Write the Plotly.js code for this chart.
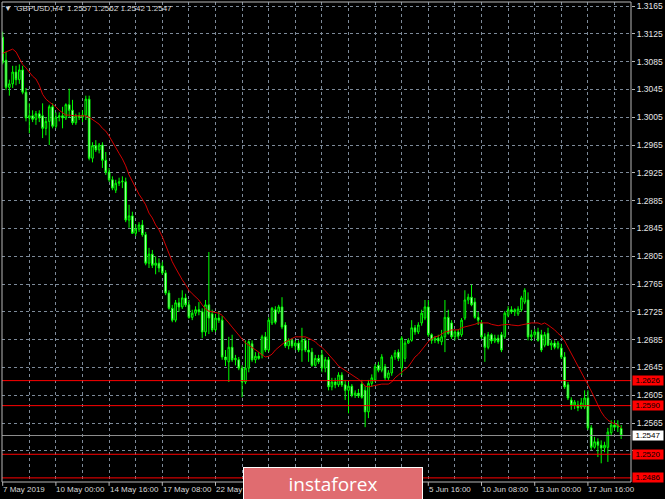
<!DOCTYPE html>
<html>
<head>
<meta charset="utf-8">
<script src="https://cdn.plot.ly/plotly-3.0.1.min.js"></script>
<style>
html,body{margin:0;padding:0;background:#000;}
#chart{width:665px;height:499px;}
</style>
</head>
<body>
<div id="chart"></div>
<script>
// ---- data (GBPUSD, H4) ----
const symbol = 'GBPUSD,H4';

const open = [
1.3120,1.3087,1.3048,1.3053,1.3070,1.3059,1.3073,1.3041,1.3004,1.3007,
1.3002,1.3010,1.3007,1.2989,1.2999,1.3020,1.2992,1.3005,1.3007,1.3004,
1.3023,1.3015,1.2997,1.3007,1.3005,1.3008,1.3031,1.2946,1.2964,1.2958,
1.2965,1.2943,1.2926,1.2915,1.2900,1.2910,1.2912,1.2912,1.2857,1.2863,
1.2838,1.2844,1.2850,1.2836,1.2795,1.2808,1.2792,1.2795,1.2791,1.2781,
1.2752,1.2730,1.2713,1.2738,1.2732,1.2745,1.2735,1.2717,1.2723,1.2728,
1.2725,1.2696,1.2735,1.2722,1.2699,1.2716,1.2713,1.2660,1.2653,1.2674,
1.2656,1.2656,1.2644,1.2624,1.2644,1.2679,1.2656,1.2661,1.2663,1.2689,
1.2670,1.2709,1.2728,1.2725,1.2732,1.2706,1.2676,1.2684,1.2676,1.2680,
1.2670,1.2684,1.2670,1.2667,1.2648,1.2658,1.2663,1.2644,1.2656,1.2617,
1.2624,1.2620,1.2634,1.2620,1.2612,1.2618,1.2605,1.2608,1.2621,1.2612,
1.2581,1.2622,1.2627,1.2648,1.2641,1.2646,1.2630,1.2637,1.2660,1.2667,
1.2644,1.2658,1.2680,1.2684,1.2702,1.2696,1.2709,1.2716,1.2732,1.2692,
1.2684,1.2687,1.2682,1.2689,1.2717,1.2709,1.2689,1.2696,1.2692,1.2716,
1.2742,1.2746,1.2739,1.2717,1.2709,1.2689,1.2674,1.2692,1.2683,1.2687,
1.2692,1.2689,1.2720,1.2728,1.2725,1.2722,1.2728,1.2739,1.2742,1.2689,
1.2692,1.2696,1.2692,1.2677,1.2694,1.2677,1.2680,1.2674,1.2673,1.2660,
1.2620,1.2598,1.2591,1.2591,1.2588,1.2588,1.2601,1.2558,1.2530,1.2538,
1.2533,1.2529,1.2530,1.2551,1.2562,1.2559,1.2557
];

const high = [
1.3128,1.3099,1.3059,1.3079,1.3079,1.3081,1.3079,1.3047,1.3025,1.3015,
1.3014,1.3015,1.3025,1.3005,1.3023,1.3025,1.3012,1.3012,1.3020,1.3025,
1.3046,1.3030,1.3010,1.3012,1.3015,1.3036,1.3036,1.2969,1.2972,1.2968,
1.2969,1.2955,1.2932,1.2920,1.2915,1.2918,1.2920,1.2918,1.2879,1.2869,
1.2851,1.2854,1.2857,1.2840,1.2817,1.2814,1.2805,1.2802,1.2797,1.2785,
1.2756,1.2735,1.2742,1.2745,1.2756,1.2751,1.2742,1.2728,1.2733,1.2739,
1.2730,1.2742,1.2811,1.2728,1.2722,1.2725,1.2719,1.2670,1.2689,1.2692,
1.2663,1.2660,1.2648,1.2684,1.2684,1.2684,1.2667,1.2667,1.2692,1.2696,
1.2717,1.2732,1.2733,1.2735,1.2746,1.2710,1.2687,1.2687,1.2684,1.2684,
1.2702,1.2687,1.2684,1.2673,1.2663,1.2663,1.2670,1.2660,1.2660,1.2630,
1.2630,1.2638,1.2638,1.2627,1.2624,1.2621,1.2612,1.2614,1.2627,1.2618,
1.2627,1.2635,1.2650,1.2653,1.2664,1.2650,1.2641,1.2663,1.2670,1.2671,
1.2690,1.2684,1.2687,1.2713,1.2706,1.2710,1.2728,1.2742,1.2742,1.2694,
1.2690,1.2692,1.2699,1.2742,1.2728,1.2713,1.2699,1.2700,1.2716,1.2756,
1.2751,1.2764,1.2745,1.2725,1.2713,1.2694,1.2696,1.2694,1.2692,1.2692,
1.2696,1.2726,1.2733,1.2733,1.2730,1.2733,1.2748,1.2759,1.2753,1.2699,
1.2700,1.2702,1.2699,1.2696,1.2702,1.2684,1.2684,1.2683,1.2679,1.2667,
1.2624,1.2602,1.2598,1.2597,1.2601,1.2612,1.2612,1.2562,1.2545,1.2543,
1.2540,1.2538,1.2558,1.2569,1.2569,1.2569,1.2562
];

const low = [
1.3081,1.3044,1.3036,1.3047,1.3051,1.3053,1.3038,1.2999,1.2982,1.2998,
1.2994,1.2998,1.2975,1.2979,1.2965,1.2989,1.2989,1.2999,1.2989,1.3001,
1.3004,1.2994,1.2994,1.3001,1.2998,1.3001,1.2943,1.2940,1.2955,1.2953,
1.2932,1.2922,1.2912,1.2900,1.2896,1.2906,1.2903,1.2854,1.2846,1.2837,
1.2834,1.2840,1.2833,1.2792,1.2788,1.2788,1.2779,1.2782,1.2778,1.2749,
1.2728,1.2710,1.2710,1.2725,1.2729,1.2732,1.2715,1.2713,1.2719,1.2720,
1.2687,1.2690,1.2693,1.2696,1.2696,1.2709,1.2656,1.2647,1.2624,1.2653,
1.2648,1.2641,1.2602,1.2621,1.2638,1.2653,1.2651,1.2656,1.2658,1.2667,
1.2667,1.2706,1.2707,1.2722,1.2700,1.2673,1.2671,1.2673,1.2670,1.2667,
1.2653,1.2667,1.2653,1.2646,1.2646,1.2650,1.2638,1.2638,1.2612,1.2612,
1.2615,1.2617,1.2617,1.2598,1.2579,1.2602,1.2601,1.2601,1.2600,1.2559,
1.2572,1.2617,1.2624,1.2638,1.2638,1.2627,1.2627,1.2633,1.2656,1.2654,
1.2634,1.2653,1.2679,1.2682,1.2692,1.2693,1.2705,1.2713,1.2689,1.2679,
1.2680,1.2679,1.2677,1.2667,1.2692,1.2686,1.2684,1.2686,1.2689,1.2713,
1.2736,1.2733,1.2715,1.2706,1.2686,1.2653,1.2671,1.2679,1.2680,1.2679,
1.2667,1.2686,1.2717,1.2722,1.2719,1.2719,1.2725,1.2736,1.2684,1.2683,
1.2687,1.2682,1.2667,1.2674,1.2676,1.2670,1.2671,1.2671,1.2657,1.2614,
1.2598,1.2584,1.2585,1.2582,1.2585,1.2585,1.2555,1.2526,1.2528,1.2516,
1.2507,1.2523,1.2509,1.2546,1.2555,1.2552,1.2542
];

const close = [
1.3084,1.3048,1.3053,1.3070,1.3059,1.3073,1.3041,1.3004,1.3007,1.3002,
1.3010,1.3004,1.2989,1.2999,1.3020,1.2992,1.3005,1.3007,1.3004,1.3023,
1.3015,1.2997,1.3007,1.3005,1.3008,1.3031,1.2946,1.2964,1.2958,1.2965,
1.2943,1.2926,1.2915,1.2903,1.2910,1.2912,1.2913,1.2857,1.2863,1.2838,
1.2844,1.2850,1.2836,1.2795,1.2808,1.2792,1.2795,1.2788,1.2781,1.2752,
1.2730,1.2713,1.2738,1.2732,1.2745,1.2735,1.2717,1.2723,1.2728,1.2725,
1.2696,1.2735,1.2716,1.2699,1.2716,1.2713,1.2660,1.2656,1.2674,1.2656,
1.2658,1.2644,1.2624,1.2644,1.2682,1.2656,1.2661,1.2658,1.2689,1.2670,
1.2713,1.2730,1.2710,1.2732,1.2703,1.2676,1.2684,1.2676,1.2680,1.2670,
1.2684,1.2670,1.2667,1.2648,1.2658,1.2653,1.2644,1.2656,1.2617,1.2624,
1.2620,1.2634,1.2620,1.2612,1.2618,1.2605,1.2608,1.2604,1.2602,1.2581,
1.2622,1.2630,1.2646,1.2641,1.2660,1.2630,1.2637,1.2660,1.2666,1.2658,
1.2687,1.2680,1.2684,1.2702,1.2696,1.2706,1.2723,1.2732,1.2692,1.2684,
1.2687,1.2683,1.2689,1.2717,1.2694,1.2689,1.2696,1.2690,1.2713,1.2742,
1.2746,1.2735,1.2717,1.2713,1.2689,1.2674,1.2692,1.2683,1.2687,1.2682,
1.2670,1.2723,1.2728,1.2725,1.2728,1.2729,1.2745,1.2756,1.2689,1.2692,
1.2696,1.2684,1.2670,1.2692,1.2677,1.2680,1.2674,1.2680,1.2660,1.2617,
1.2601,1.2591,1.2595,1.2587,1.2594,1.2601,1.2558,1.2530,1.2538,1.2533,
1.2529,1.2533,1.2552,1.2562,1.2559,1.2562,1.2547
];

// moving average (red line), read per bar
const ma = [
1.3097,1.3099,1.3102,1.3103,1.3099,1.3090,1.3081,1.3076,1.3070,1.3064,
1.3060,1.3051,1.3038,1.3031,1.3027,1.3024,1.3020,1.3015,1.3011,1.3008,
1.3008,1.3007,1.3007,1.3007,1.3007,1.3007,1.3005,1.3002,1.2998,1.2995,
1.2989,1.2985,1.2978,1.2969,1.2962,1.2953,1.2945,1.2935,1.2922,1.2912,
1.2903,1.2894,1.2887,1.2879,1.2867,1.2860,1.2850,1.2843,1.2833,1.2821,
1.2808,1.2797,1.2788,1.2779,1.2771,1.2764,1.2756,1.2751,1.2746,1.2742,
1.2735,1.2729,1.2726,1.2725,1.2723,1.2723,1.2720,1.2715,1.2709,1.2703,
1.2697,1.2692,1.2686,1.2680,1.2677,1.2674,1.2670,1.2667,1.2663,1.2660,
1.2661,1.2664,1.2670,1.2674,1.2679,1.2682,1.2684,1.2687,1.2689,1.2689,
1.2689,1.2689,1.2687,1.2684,1.2682,1.2677,1.2674,1.2669,1.2664,1.2658,
1.2653,1.2647,1.2644,1.2640,1.2637,1.2634,1.2631,1.2628,1.2624,1.2618,
1.2617,1.2618,1.2620,1.2621,1.2621,1.2621,1.2621,1.2624,1.2630,1.2634,
1.2638,1.2643,1.2646,1.2653,1.2660,1.2664,1.2670,1.2676,1.2682,1.2686,
1.2689,1.2690,1.2693,1.2696,1.2697,1.2699,1.2699,1.2699,1.2702,1.2703,
1.2705,1.2706,1.2707,1.2709,1.2709,1.2709,1.2709,1.2707,1.2706,1.2705,
1.2706,1.2707,1.2707,1.2706,1.2705,1.2705,1.2706,1.2707,1.2709,1.2709,
1.2709,1.2709,1.2707,1.2709,1.2706,1.2703,1.2699,1.2694,1.2690,1.2683,
1.2674,1.2667,1.2658,1.2648,1.2640,1.2631,1.2622,1.2611,1.2601,1.2591,
1.2581,1.2574,1.2569,1.2566,1.2564,1.2562,1.2558
];

// time axis: tick marks every 16 bars; labels that are visible (the others sit under the watermark)
const tickIdx = [0,16,32,48,64,80,96,112,128,144,160,176];
const labelIdx = [0,16,32,48,64,128,144,160,176];
const tickLabels = ['7 May 2019','10 May 00:00','14 May 16:00','17 May 08:00','22 May',
                    '5 Jun 16:00','10 Jun 08:00','13 Jun 00:00','17 Jun 16:00'];
const gridIdx = [0,8,16,24,32,40,48,56,64,72,80,88,96,104,112,120,128,136,144,152,160,168,176,184];

// price axis
const priceTicks  = [1.2525,1.2565,1.2605,1.2645,1.2685,1.2725,1.2765,1.2805,1.2845,1.2885,1.2925,1.2965,1.3005,1.3045,1.3085,1.3125,1.3165];
const priceLabels = ['','1.2565','1.2605','1.2645','1.2685','1.2725','1.2765','1.2805','1.2845','1.2885','1.2925','1.2965','1.3005','1.3045','1.3085','1.3125','1.3165'];

// horizontal levels (red) and current price
const levels = [1.2626, 1.2590, 1.2520, 1.2486];
const lastPrice = 1.2547;

// ---- build chart ----
const n = close.length;
const idx = close.map((_, i) => i);
const last = n - 1;

const FONT = 'Liberation Sans, Arial, sans-serif';
const GRID = '#7d8a99';

const candles = {
  type: 'candlestick',
  x: idx, open: open, high: high, low: low, close: close,
  increasing: {line: {color: '#00ff00', width: 1}, fillcolor: '#000000'},
  decreasing: {line: {color: '#00ff00', width: 1}, fillcolor: '#ffffff'},
  whiskerwidth: 0,
  hoverinfo: 'skip'
};

const maLine = {
  type: 'scatter', mode: 'lines',
  x: idx, y: ma,
  line: {color: '#d20000', width: 1},
  hoverinfo: 'skip'
};

const shapes = [];
levels.forEach(v => shapes.push({
  type: 'line', xref: 'paper', x0: 0, x1: 1, yref: 'y', y0: v, y1: v,
  line: {color: '#ff0000', width: 1}
}));
shapes.push({
  type: 'line', xref: 'paper', x0: 0, x1: 1, yref: 'y', y0: lastPrice, y1: lastPrice,
  line: {color: '#8c8c8c', width: 1}
});
shapes.push({
  type: 'rect', xref: 'paper', yref: 'paper', x0: 0, x1: 1, y0: 0, y1: 1,
  line: {color: '#b8b8b8', width: 1}
});
tickIdx.forEach(ix => shapes.push({
  type: 'line', xref: 'x', x0: ix, x1: ix, yref: 'paper', y0: 0, y1: -0.008,
  line: {color: '#b8b8b8', width: 1}
}));

const annotations = [];
labelIdx.forEach((ix, k) => annotations.push({
  xref: 'x', x: ix, yref: 'paper', y: 0, xanchor: 'left', yanchor: 'top',
  xshift: -1.5, yshift: -1, showarrow: false, text: tickLabels[k],
  font: {family: FONT, size: 8, color: '#d8d8d8'}
}));
levels.forEach(v => annotations.push({
  xref: 'paper', x: 1, xanchor: 'left', xshift: 1, yref: 'y', y: v, yanchor: 'middle',
  showarrow: false, text: v.toFixed(4), bgcolor: '#ff0000', borderpad: 0,
  width: 30, height: 9, font: {family: FONT, size: 8, color: '#000000'}
}));
annotations.push({
  xref: 'paper', x: 1, xanchor: 'left', xshift: 1, yref: 'y', y: lastPrice, yanchor: 'middle',
  showarrow: false, text: lastPrice.toFixed(4), bgcolor: '#ffffff', borderpad: 0,
  width: 30, height: 9, font: {family: FONT, size: 8, color: '#000000'}
});
// watermark
annotations.push({
  xref: 'paper', x: 0.5262, xanchor: 'center', yref: 'paper', y: 0.03125, yanchor: 'top',
  showarrow: false, text: 'instaforex', bgcolor: '#e06c70', bordercolor: '#ffffff',
  borderwidth: 1, borderpad: 0, width: 178, height: 32,
  font: {family: 'Open Sans, Liberation Sans, sans-serif', size: 19, color: '#ffffff'}
});

const header = '\u25BC\u00A0\u00A0' + symbol + '\u00A0\u00A0' +
  [open[last], high[last], low[last], close[last]].map(v => v.toFixed(4)).join('\u00A0');

const layout = {
  width: 665, height: 499,
  paper_bgcolor: '#000000', plot_bgcolor: '#000000',
  margin: {l: 2, r: 34, t: 2, b: 17, pad: 0},
  showlegend: false,
  title: {
    text: header, xref: 'container', yref: 'container',
    x: 0.006, xanchor: 'left', y: 0.984, yanchor: 'middle',
    font: {family: FONT, size: 8, color: '#d8d8d8'}
  },
  xaxis: {
    range: [-0.21, 188.96],
    rangeslider: {visible: false},
    tickmode: 'array', tickvals: gridIdx, ticktext: gridIdx.map(() => ''),
    showgrid: true, gridcolor: GRID, griddash: '3px,3px', gridwidth: 1,
    ticks: '', zeroline: false, showline: false, automargin: false, fixedrange: true
  },
  yaxis: {
    side: 'right',
    range: [1.24801, 1.31708],
    tickmode: 'array', tickvals: priceTicks, ticktext: priceLabels,
    ticks: 'outside', ticklen: 3, tickcolor: '#b8b8b8',
    showgrid: true, gridcolor: GRID, griddash: '3px,3px', gridwidth: 1,
    tickfont: {family: FONT, size: 8.5, color: '#e6e6e6'},
    zeroline: false, showline: false, automargin: false, fixedrange: true
  },
  shapes: shapes,
  annotations: annotations
};

Plotly.newPlot('chart', [candles, maLine], layout, {staticPlot: true, displayModeBar: false});
</script>
</body>
</html>
